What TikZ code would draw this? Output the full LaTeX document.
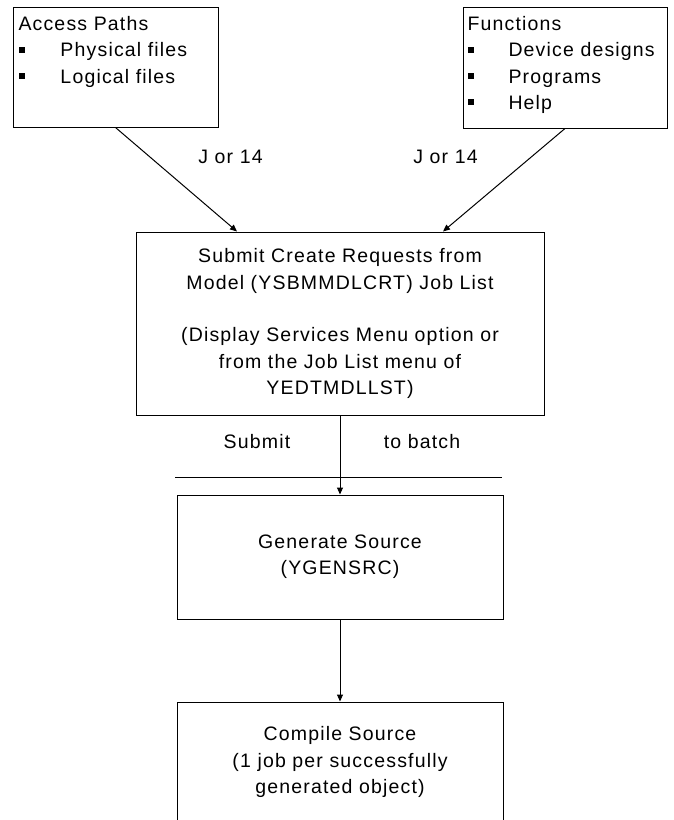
\documentclass[tikz,border=0pt]{standalone}
\usepackage{fontspec}
\setmainfont{Liberation Sans}[LetterSpace=6]
\usetikzlibrary{arrows.meta}

\begin{document}
\begin{tikzpicture}[
        x=1pt,
        y=-1pt,
        font=\fontsize{19.5}{26.3}\selectfont,
        line width=1pt,
        box/.style={draw, rectangle, inner sep=0pt, align=center},
        listtext/.style={inner sep=0pt, align=left, anchor=north west},
        flow/.style={-{Triangle[length=7pt,width=6pt]}}
    ]

    \useasboundingbox (0,0) rectangle (674,820);
    \clip (0,0) rectangle (674,820);

    % Access paths
    \node[box, minimum width=205, minimum height=120] (paths) at (115.5,67) {};
    \node[listtext] (pathslist) at (18,15.8) {Access Paths\\
        \makebox[42pt][l]{\rule[4pt]{6pt}{6pt}}Physical files\\
        \makebox[42pt][l]{\rule[4pt]{6pt}{6pt}}Logical files};

    % Functions
    \node[box, minimum width=204, minimum height=121] (funcs) at (565,67.5) {};
    \node[listtext] (funcslist) at (467,15.8) {Functions\\
        \makebox[41pt][l]{\rule[4pt]{6pt}{6pt}}Device designs\\
        \makebox[41pt][l]{\rule[4pt]{6pt}{6pt}}Programs\\
        \makebox[41pt][l]{\rule[4pt]{6pt}{6pt}}Help};

    % Submit create requests
    \node[box, minimum width=408, minimum height=183] (submit) at (340,323.5)
        {Submit Create Requests from\\
        Model (YSBMMDLCRT) Job List\\[26.3pt]
        (Display Services Menu option or\\
        from the Job List menu of\\
        YEDTMDLLST)};

    \coordinate (inL) at ([xshift=-103pt]submit.north);
    \coordinate (inR) at ([xshift=103pt]submit.north);
    \draw[flow] (paths.south) -- (inL);
    \draw[flow] (funcs.south) -- (inR);
    \node[anchor=base, inner sep=0pt] (optL) at (230.5,163) {J or 14};
    \node[anchor=base, inner sep=0pt] (optR) at (445.5,163) {J or 14};

    % Batch
    \node[anchor=base, inner sep=0pt] (sublbl) at (257,448) {Submit};
    \node[anchor=base, inner sep=0pt] (batchlbl) at (422,448) {to batch};
    \coordinate (sepL) at (175,477);
    \coordinate (sepR) at (502,477);
    \draw (sepL) -- (sepR);

    % Generate and compile
    \node[box, minimum width=326, minimum height=124] (gen) at (340,557)
        {Generate Source\\(YGENSRC)};
    \node[box, minimum width=326, minimum height=120] (comp) at (340,762)
        {Compile Source\\(1 job per successfully\\generated object)};

    \draw[flow] (submit.south) -- (gen.north);
    \draw[flow] (gen.south) -- (comp.north);

\end{tikzpicture}
\end{document}
